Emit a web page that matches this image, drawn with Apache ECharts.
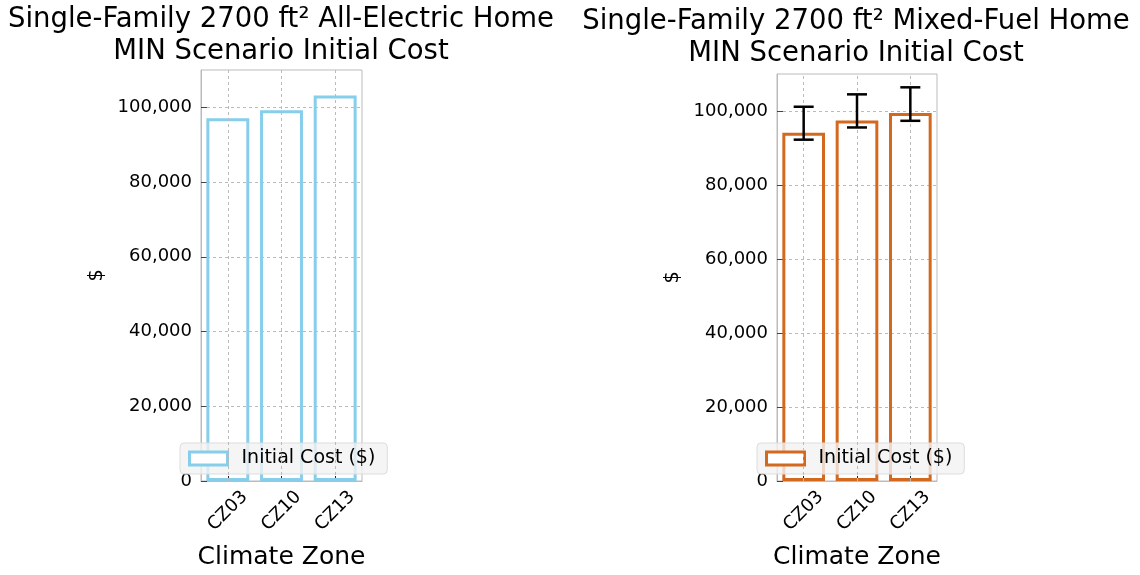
<!DOCTYPE html>
<html>
<head>
<meta charset="utf-8">
<script src="https://cdn.jsdelivr.net/npm/echarts@6/dist/echarts.min.js"></script>
<style>
  html, body { margin: 0; padding: 0; background: #fff; }
  #main { width: 1140px; height: 575px; }
</style>
</head>
<body>
<div id="main"></div>
<script>
  // data
  var zones = ['CZ03', 'CZ10', 'CZ13'];
  var elecCost = [97100, 99200, 103150];
  var mixedCost = [94100, 97450, 99450];
  var mixedLow = [92250, 95550, 97350];
  var mixedHigh = [101150, 104500, 106400];
  var yTicks = [0, 20000, 40000, 60000, 80000, 100000];

  var FONT = 'DejaVu Sans';
  var blue = '#87CEEB';
  var orange = '#D2691E';

  function commas(v){
    return String(v).replace(/\B(?=(\d{3})+(?!\d))/g, ',');
  }

  var errData = [];
  for (var i = 0; i < zones.length; i++) {
    errData.push([i, mixedLow[i], mixedHigh[i]]);
  }

  // vertical grid lines sit on the category centres, as in matplotlib
  var vGrid = [];
  for (var k = 0; k < zones.length; k++) vGrid.push({ xAxis: zones[k] });

  function gridMark(){
    return {
      silent: true, symbol: 'none', label: { show: false },
      lineStyle: { color: '#bbb', width: 1, type: [3, 3] },
      data: vGrid
    };
  }

  function makeX(idx){
    return {
      type: 'category', gridIndex: idx, data: zones,
      name: 'Climate Zone', nameLocation: 'middle', nameGap: 64,
      nameTextStyle: { fontFamily: FONT, fontSize: 25, color: '#000' },
      axisLine: { show: true, lineStyle: { color: '#bbb', width: 1 } },
      axisTick: { show: true, inside: true, alignWithLabel: true, length: 5, lineStyle: { color: '#222' } },
      axisLabel: { rotate: 45, align: 'center', verticalAlign: 'middle', fontFamily: FONT, fontSize: 18, color: '#000', margin: 30 },
      splitLine: { show: false }
    };
  }
  function makeY(idx){
    return {
      type: 'value', gridIndex: idx, min: 0, max: 110000, interval: 20000,
      name: '$', nameLocation: 'middle', nameGap: 94, nameRotate: 90,
      nameTextStyle: { fontFamily: FONT, fontSize: 20, color: '#000' },
      axisLine: { show: true, lineStyle: { color: '#bbb', width: 1 } },
      axisTick: { show: true, inside: true, length: 6, lineStyle: { color: '#444' }, customValues: yTicks },
      axisLabel: {
        fontFamily: FONT, fontSize: 18, color: '#000', margin: 9, customValues: yTicks,
        formatter: function(v){ return yTicks.indexOf(v) >= 0 ? commas(v) : ''; }
      },
      splitLine: { show: true, lineStyle: { color: '#bbb', type: [3, 3] } }
    };
  }

  function makeLegend(name, left, col){
    return {
      data: [name], left: left, top: 443, padding: [6, 12, 6, 8],
      formatter: function(){ return 'Initial Cost ($)'; },
      backgroundColor: 'rgba(242,242,242,0.8)', borderColor: '#ddd', borderWidth: 1, borderRadius: 4,
      icon: 'rect', itemWidth: 38, itemHeight: 13, itemGap: 10,
      itemStyle: { color: '#fff', borderColor: col, borderWidth: 3 },
      textStyle: { fontFamily: FONT, fontSize: 19, color: '#000', padding: [0, 0, 0, 9] }
    };
  }

  var chart = echarts.init(document.getElementById('main'));
  var option = {
    backgroundColor: '#fff',
    animation: false,
    title: [
      { text: 'Single-Family 2700 ft² All-Electric Home\nMIN Scenario Initial Cost',
        left: 276, top: -1, textAlign: 'center',
        textStyle: { fontFamily: FONT, fontSize: 27.5, fontWeight: 'normal', color: '#000', lineHeight: 32 } },
      { text: 'Single-Family 2700 ft² Mixed-Fuel Home\nMIN Scenario Initial Cost',
        left: 851, top: 1, textAlign: 'center',
        textStyle: { fontFamily: FONT, fontSize: 27.5, fontWeight: 'normal', color: '#000', lineHeight: 32 } }
    ],
    legend: [makeLegend('elec', 180, blue), makeLegend('mixed', 757, orange)],
    grid: [
      { left: 201, top: 70, width: 161, height: 416, show: true, borderColor: '#bbb', borderWidth: 1 },
      { left: 777, top: 74, width: 160, height: 412, show: true, borderColor: '#bbb', borderWidth: 1 }
    ],
    xAxis: [makeX(0), makeX(1)],
    yAxis: [makeY(0), makeY(1)],
    series: [
      { name: 'elec', type: 'bar', xAxisIndex: 0, yAxisIndex: 0, data: elecCost, barWidth: '80%',
        itemStyle: { color: 'rgba(255,255,255,0)', borderColor: blue, borderWidth: 3 },
        markLine: gridMark() },
      { name: 'mixed', type: 'bar', xAxisIndex: 1, yAxisIndex: 1, data: mixedCost, barWidth: '80%',
        itemStyle: { color: 'rgba(255,255,255,0)', borderColor: orange, borderWidth: 3 },
        markLine: gridMark() },
      { name: 'err', type: 'custom', xAxisIndex: 1, yAxisIndex: 1, data: errData, z: 5,
        renderItem: function(params, api){
          var lo = api.coord([api.value(0), api.value(1)]);
          var hi = api.coord([api.value(0), api.value(2)]);
          var hw = 10;
          var st = { stroke: '#000', lineWidth: 2.5 };
          return { type: 'group', children: [
            { type: 'line', shape: { x1: lo[0], y1: lo[1], x2: hi[0], y2: hi[1] }, style: st },
            { type: 'line', shape: { x1: lo[0]-hw, y1: lo[1], x2: lo[0]+hw, y2: lo[1] }, style: st },
            { type: 'line', shape: { x1: hi[0]-hw, y1: hi[1], x2: hi[0]+hw, y2: hi[1] }, style: st }
          ]};
        }
      }
    ]
  };
  chart.setOption(option);
</script>
</body>
</html>
